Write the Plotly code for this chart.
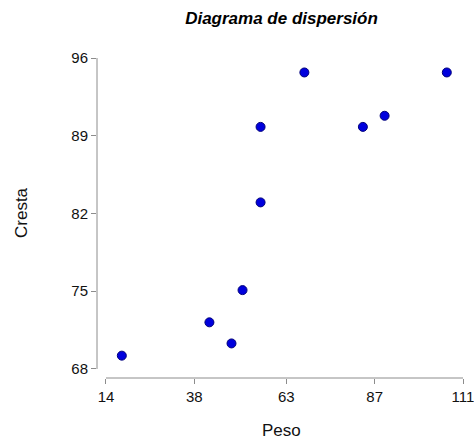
import plotly.graph_objects as go

peso = [18.3, 42.1, 48.1, 51.1, 56.0, 56.0, 67.9, 83.8, 89.7, 106.6]
cresta = [69.2, 72.2, 70.3, 75.1, 83.0, 89.8, 94.7, 89.8, 90.8, 94.7]
x_ticks = [14, 38, 63, 87, 111]
y_ticks = [68, 75, 82, 89, 96]

W, H = 474, 439
ml, mr, mt, mb = 97, 8, 50, 61

fig = go.Figure()
fig.add_trace(go.Scatter(
    x=peso, y=cresta, mode="markers",
    marker=dict(size=9, color="#0000dd", line=dict(color="#00007a", width=1)),
    showlegend=False, hoverinfo="x+y"))

axis_col = "#8c8c8c"
fig.add_shape(type="line", xref="paper", yref="y", x0=0, x1=0,
              y0=min(y_ticks), y1=max(y_ticks), line=dict(color=axis_col, width=1))
fig.add_shape(type="line", xref="x", yref="paper", y0=0, y1=0,
              x0=min(x_ticks), x1=max(x_ticks), line=dict(color=axis_col, width=1))

font = "Liberation Sans, Arial, sans-serif"
txt = "#111111"
fig.update_layout(
    width=W, height=H,
    margin=dict(l=ml, r=mr, t=mt, b=mb),
    paper_bgcolor="white", plot_bgcolor="white",
    font=dict(family=font, size=15, color=txt),
    title=dict(text="<b><i>Diagrama de dispersión</i></b>", x=(ml + (W - mr)) / 2 / W,
               xanchor="center", y=1 - 18 / H, yanchor="middle",
               font=dict(family=font, size=17, color="#000")),
    xaxis=dict(range=[14 - 9 / 3.684, 111 + 3 / 3.684], tickvals=x_ticks,
               ticktext=[str(t) for t in x_ticks], ticks="outside", ticklen=5,
               tickcolor=axis_col, showgrid=False, zeroline=False, showline=False,
               tickfont=dict(size=15, color=txt), automargin=False,
               ticklabeloverflow="allow"),
    yaxis=dict(range=[68 - 9 / 11.07, 96 + 8 / 11.07], tickvals=y_ticks,
               ticktext=[str(t) for t in y_ticks], ticks="outside", ticklen=5,
               tickcolor=axis_col, showgrid=False, zeroline=False, showline=False,
               tickfont=dict(size=15, color=txt), automargin=False,
               ticklabeloverflow="allow"),
    annotations=[
        dict(text="Peso", xref="paper", yref="paper",
             x=((W - mr + ml) / 2 - ml) / (W - ml - mr), y=-(430 - (H - mb)) / (H - mt - mb),
             xanchor="center", yanchor="middle", showarrow=False,
             font=dict(size=17, color=txt)),
        dict(text="Cresta", xref="paper", yref="paper",
             x=-(ml - 21) / (W - ml - mr), y=((H - mb) - 213) / (H - mt - mb),
             xanchor="center", yanchor="middle", textangle=-90, showarrow=False,
             font=dict(size=17, color=txt)),
    ],
)
fig.write_html("out.html")
